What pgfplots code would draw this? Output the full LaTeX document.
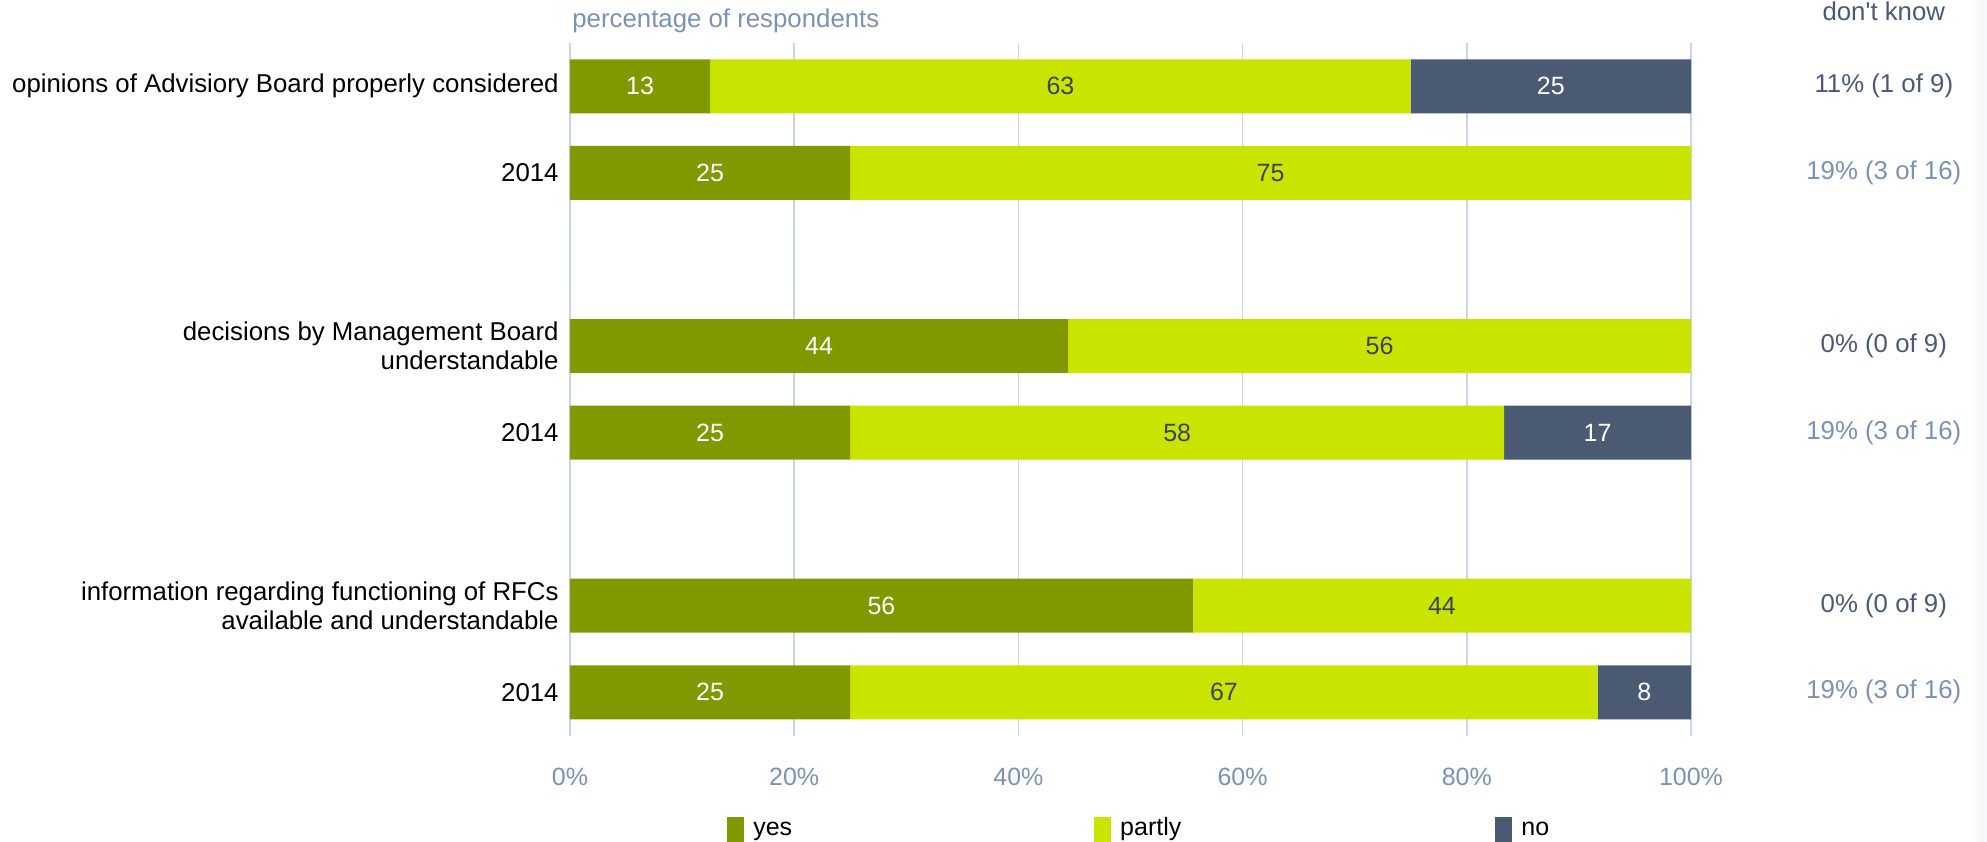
\documentclass[border=0pt]{standalone}
\usepackage{pgfplots}
\pgfplotsset{compat=1.18}
\usepackage{pgfplotstable}
\usepackage{fontspec}
\setmainfont{Liberation Sans}

\definecolor{yescol}{RGB}{128,153,0}
\definecolor{partlycol}{RGB}{200,228,0}
\definecolor{nocol}{RGB}{74,90,115}
\definecolor{gridcol}{RGB}{200,213,234}
\definecolor{tickcol}{RGB}{124,146,180}
\definecolor{darktxt}{RGB}{62,67,84}
\definecolor{sidecol}{RGB}{243,245,248}

% shares in percent (rows at y positions, gaps between the three questions)
\pgfplotstableread{
pos yes partly no
0 12.5 62.5 25
1 25 75 0
3 44.44 55.56 0
4 25 58.33 16.67
6 55.56 44.44 0
7 25 66.67 8.33
}\answers

\newcommand{\smallf}{\fontsize{12.5}{14.5}\selectfont}
\pgfplotsset{base/.style={scale only axis, width=560.5pt, height=346.3pt,
  xmin=0, xmax=100, ymin=-0.5, ymax=7.5, y dir=reverse, clip=false}}

\begin{document}
\fontsize{12.9}{14.6}\selectfont
\begin{tikzpicture}
\begin{axis}[base, name=main,
  xbar stacked, bar width=27pt,
  axis line style={draw=none}, major tick length=0pt, tick style={draw=none},
  xmajorgrids, grid style={gridcol, line width=0.8pt},
  xtick={0,20,40,60,80,100},
  xticklabels={0\%,20\%,40\%,60\%,80\%,100\%},
  xticklabel style={text=tickcol, anchor=center, yshift=-20.7pt, inner sep=0pt, font=\smallf},
  ytick={0,1,3,4,6,7},
  yticklabels={opinions of Advisiory Board properly considered, 2014,
    {decisions by Management Board\\understandable}, 2014,
    {information regarding functioning of RFCs\\available and understandable}, 2014},
  yticklabel style={align=right, anchor=east, inner sep=0pt, xshift=-5.5pt},
  legend style={at={(0.14,0)}, anchor=north west, yshift=-37.5pt,
    legend columns=3, draw=none, fill=none, inner sep=0pt, text=black, font=\smallf,
    /tikz/every odd column/.append style={column sep=2.5pt},
    /tikz/column 2/.append style={column sep=149pt},
    /tikz/column 4/.append style={column sep=155pt}},
  legend cell align=left,
  legend image code/.code={\fill[#1] (0pt,-12pt) rectangle (8.5pt,5pt);},
]
\addplot[fill=yescol, draw=none] table[x=yes, y=pos]{\answers};
\addplot[fill=partlycol, draw=none] table[x=partly, y=pos]{\answers};
\addplot[fill=nocol, draw=none] table[x=no, y=pos]{\answers};
\legend{yes\strut,partly\strut,no\strut}
\end{axis}

\begin{axis}[base, hide axis,
  nodes near coords={\pgfmathprintnumber[fixed,precision=0]{\pgfplotspointmeta}},
  every node near coord/.append style={anchor=center, inner sep=0pt, font=\smallf},
  /pgf/number format/assume math mode=true,
]
\addplot[draw=none, point meta=explicit, every node near coord/.append style={text=white}]
  table[x expr=\thisrow{yes}/2, y=pos, meta=yes]{\answers};
\addplot[draw=none, point meta=explicit, every node near coord/.append style={text=darktxt}]
  table[x expr=\thisrow{yes}+\thisrow{partly}/2, y=pos, meta=partly]{\answers};
\addplot[draw=none, point meta=explicit, restrict x to domain=50:99.5,
  every node near coord/.append style={text=white}]
  table[x expr=100-\thisrow{no}/2, y=pos, meta=no]{\answers};

\node[anchor=base west, text=tickcol, inner sep=0pt, yshift=8pt, xshift=1pt] at (axis cs:0,-0.5) {percentage of respondents};
\node[anchor=base, text=nocol, inner sep=0pt, yshift=11.5pt] at (axis cs:117.2,-0.5) {don\textquotesingle t know};
\node[text=nocol] at (axis cs:117.2,0) {11\% (1 of 9)};
\node[text=tickcol] at (axis cs:117.2,1) {19\% (3 of 16)};
\node[text=nocol] at (axis cs:117.2,3) {0\% (0 of 9)};
\node[text=tickcol] at (axis cs:117.2,4) {19\% (3 of 16)};
\node[text=nocol] at (axis cs:117.2,6) {0\% (0 of 9)};
\node[text=tickcol] at (axis cs:117.2,7) {19\% (3 of 16)};
\draw[gridcol, line width=0.8pt] (axis cs:0,7.5) ++(0,-33.7pt) -- ++(0,-40pt);
\draw[gridcol, line width=0.8pt] (axis cs:100,7.5) ++(0,-33.7pt) -- ++(0,-40pt);
\end{axis}

\pgfresetboundingbox
\path[use as bounding box] ([shift={(-285pt,-53.2pt)}]main.south west) rectangle ([shift={(148pt,21.5pt)}]main.north east);
\shade[left color=white, right color=sidecol] ([shift={(138pt,-53.2pt)}]main.south east) rectangle ([shift={(148pt,21.5pt)}]main.north east);
\end{tikzpicture}
\end{document}
